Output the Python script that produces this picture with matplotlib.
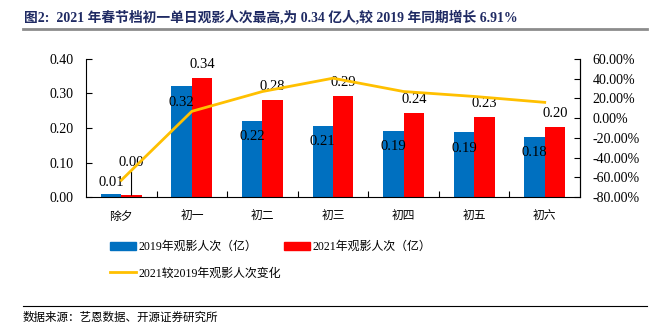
import matplotlib
matplotlib.use('Agg')
import matplotlib.pyplot as plt
from matplotlib.lines import Line2D
from matplotlib.patches import Patch
import numpy as np

plt.rcParams['font.family'] = ['Liberation Serif', 'Noto Sans CJK SC']
plt.rcParams['axes.unicode_minus'] = False

categories = ['除夕', '初一', '初二', '初三', '初四', '初五', '初六']
viewers_2019 = [0.009, 0.321, 0.220, 0.206, 0.191, 0.188, 0.174]
viewers_2021 = [0.005, 0.345, 0.280, 0.293, 0.243, 0.231, 0.202]
labels_2019 = ['0.01', '0.32', '0.22', '0.21', '0.19', '0.19', '0.18']
labels_2021 = ['0.00', '0.34', '0.28', '0.29', '0.24', '0.23', '0.20']
change_pct = [-63.0, 6.91, 27.0, 40.5, 27.0, 22.0, 16.0]

title = '图2:  2021 年春节档初一单日观影人次最高,为 0.34 亿人,较 2019 年同期增长 6.91%'
source = '数据来源：艺恩数据、开源证券研究所'

blue = '#0070C0'
red = '#FF0000'
gold = '#FFC000'

fig = plt.figure(figsize=(6.55, 3.31), dpi=100)
ax = fig.add_axes([0.1313, 0.4048, 0.7542, 0.4170])

x = np.arange(len(categories))
width = 0.29
bars_19 = ax.bar(x - width / 2, viewers_2019, width, color=blue, zorder=2)
bars_21 = ax.bar(x + width / 2, viewers_2021, width, color=red, zorder=2)

ax.set_xlim(-0.5, len(categories) - 0.5)
ax.set_ylim(0, 0.4)
ax.set_yticks(np.arange(0, 0.41, 0.1))
ax.set_yticklabels([f'{v:.2f}' for v in np.arange(0, 0.41, 0.1)], fontsize=10)
ax.set_xticks(x)
ax.set_xticklabels(categories, fontsize=8.5, family=['Noto Sans CJK SC'])
ax.set_xticks(x[:-1] + 0.5, minor=True)
ax.tick_params(axis='x', which='major', length=0, pad=9)
ax.tick_params(axis='x', which='minor', direction='in', length=4, width=0.8)
ax.tick_params(axis='y', direction='in', length=4, width=0.8, pad=9)
ax.spines['top'].set_visible(False)
for s in ['left', 'bottom', 'right']:
    ax.spines[s].set_linewidth(0.8)

# value labels
for b, v, lab in zip(bars_19, viewers_2019, labels_2019):
    cx = b.get_x() + b.get_width() / 2
    y = v - 0.046 if v > 0.05 else v + 0.032
    ax.text(cx, y, lab, ha='center', va='center', fontsize=10.5, zorder=5)
for b, v, lab in zip(bars_21, viewers_2021, labels_2021):
    cx = b.get_x() + b.get_width() / 2
    if v < 0.05:
        ax.annotate(lab, xy=(cx, v), xytext=(cx, v + 0.095), ha='center', va='center',
                    fontsize=10.5, zorder=5,
                    arrowprops=dict(arrowstyle='-', color='black', lw=0.8,
                                    shrinkA=0, shrinkB=0))
    else:
        ax.text(cx, v + 0.040, lab, ha='center', va='center', fontsize=10.5, zorder=5)

ax2 = ax.twinx()
ax2.plot(x, change_pct, color=gold, lw=2, zorder=3)
ax2.set_ylim(-80, 60)
ax2.set_yticks(np.arange(-80, 61, 20))
ax2.set_yticklabels([f'{v:.2f}%' for v in np.arange(-80, 61, 20)], fontsize=10)
ax2.tick_params(axis='y', direction='in', length=4, width=0.8, pad=9)
for s in ['top', 'left', 'bottom']:
    ax2.spines[s].set_visible(False)
ax2.spines['right'].set_linewidth(0.8)

handles = [Patch(color=blue, label='2019年观影人次（亿）'),
           Line2D([], [], color=gold, lw=2, label='2021较2019年观影人次变化'),
           Patch(color=red, label='2021年观影人次（亿）')]
fig.legend(handles=handles, loc='upper left', bbox_to_anchor=(0.168, 0.272), ncol=2,
           frameon=False, borderpad=0, borderaxespad=0,
           handlelength=2.2, handletextpad=0.2, columnspacing=0.2, labelspacing=1.2,
           handleheight=0.6, prop={'family': ['Liberation Serif', 'Noto Sans CJK SC'], 'size': 8.6})

fig.text(0.037, 0.948, title, fontsize=9.9, fontweight='bold', color='#1F2A63',
         ha='left', va='center')
fig.add_artist(Line2D([0.035, 0.988], [0.912, 0.912], color='#8C8C8C', lw=2))
fig.add_artist(Line2D([0.035, 0.988], [0.075, 0.075], color='black', lw=0.8))
fig.text(0.035, 0.040, source, fontsize=8.3, family=['Noto Sans CJK SC'],
         ha='left', va='center')

fig.savefig('out.png', dpi=100)
